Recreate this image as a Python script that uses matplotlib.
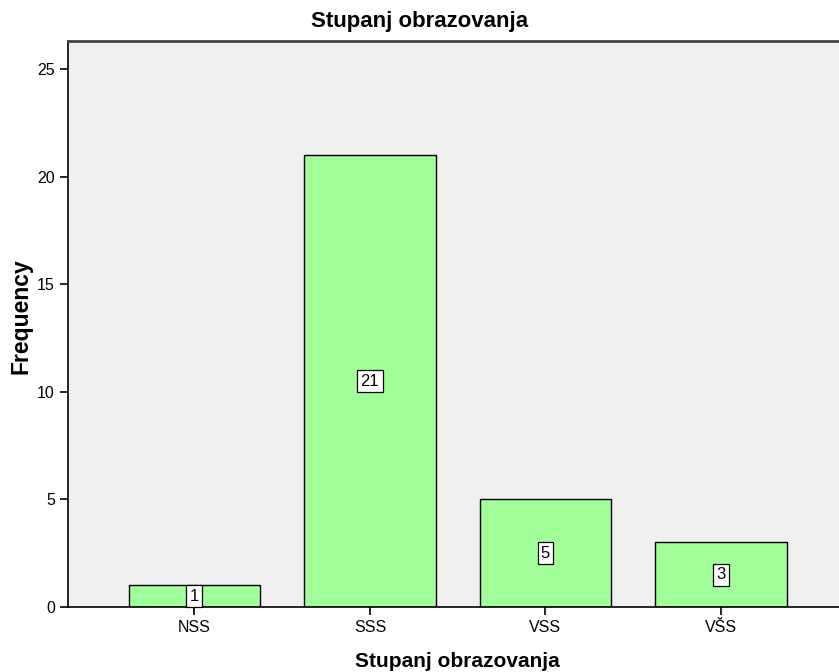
import matplotlib.pyplot as plt
import numpy as np

plt.rcParams['font.family'] = ['Liberation Sans', 'DejaVu Sans']

categories = ['NSS', 'SSS', 'VSS', 'VŠS']
counts = [1, 21, 5, 3]

fig = plt.figure(figsize=(8.39, 6.72), dpi=100)
ax = fig.add_axes([68 / 839, 1 - 607 / 672, 1 - 68 / 839 + 0.01, (607 - 41) / 672])
ax.set_facecolor('#f0f0f0')

x = np.arange(len(categories))
ax.bar(x, counts, width=0.75, color='#a0ff98', edgecolor='black', linewidth=1.0, zorder=2)

# value labels in small boxes at the middle of each bar
for a, b in zip(x, counts):
    ax.text(a, b / 2, '%d' % b, ha='center', va='center', fontsize=12, zorder=3,
            bbox=dict(boxstyle='square,pad=0.2', facecolor='white', edgecolor='black', linewidth=0.9))

ax.set_xlim(-0.72, 3.72)
ax.set_ylim(0, 26.3)
ax.set_yticks([0, 5, 10, 15, 20, 25])
ax.set_xticks(x)
ax.set_xticklabels(categories, fontsize=11.5)
ax.tick_params(axis='y', labelsize=11.5, length=6, width=1.2)
ax.tick_params(axis='x', length=6, width=1.2)

ax.spines['right'].set_visible(False)
ax.spines['top'].set_color('#444444')
ax.spines['top'].set_linewidth(2)
ax.spines['left'].set_linewidth(1.2)
ax.spines['bottom'].set_linewidth(1.2)

fig.text(0.5, 1 - 22 / 672, 'Stupanj obrazovanja', fontsize=16, fontweight='bold', ha='center', va='center')
ax.set_xlabel('Stupanj obrazovanja', fontsize=15, fontweight='bold', labelpad=12)
fig.text(21 / 839, 1 - 316 / 672, 'Frequency', fontsize=16.5, fontweight='bold',
         rotation=90, ha='center', va='center')

plt.savefig('out.png', dpi=100)
